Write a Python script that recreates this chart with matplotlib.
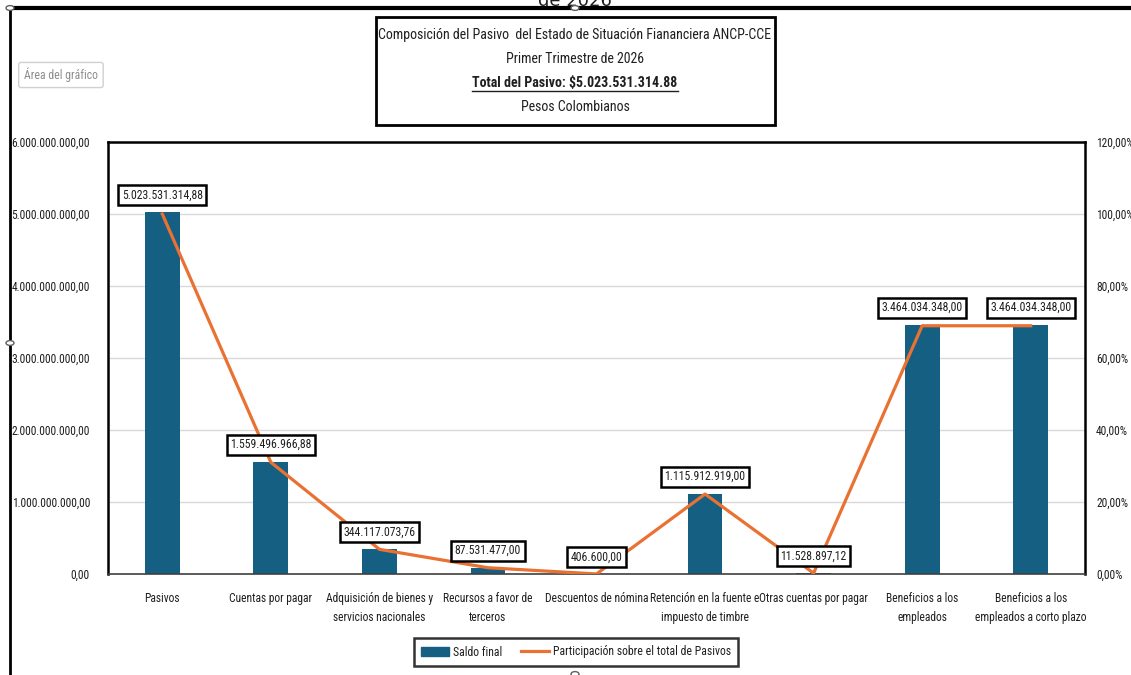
import matplotlib
matplotlib.use("Agg")
import matplotlib.pyplot as plt
from matplotlib.patches import Rectangle, Circle
from matplotlib.lines import Line2D

plt.rcParams['font.family'] = ['Roboto Condensed', 'IBM Plex Sans Condensed', 'DejaVu Sans']

categorias = ['Pasivos', 'Cuentas por pagar', 'Adquisición de bienes y\nservicios nacionales',
              'Recursos a favor de\nterceros', 'Descuentos de nómina',
              'Retención en la fuente e\nimpuesto de timbre', 'Otras cuentas por pagar',
              'Beneficios a los\nempleados', 'Beneficios a los\nempleados a corto plazo']
saldo_final = [5023531314.88, 1559496966.88, 344117073.76, 87531477.00, 406600.00,
               1115912919.00, 11528897.12, 3464034348.00, 3464034348.00]
participacion = [100.0, 31.04, 6.85, 1.74, 0.01, 22.21, 0.23, 68.96, 68.96]

titulo = ['Composición del Pasivo  del Estado de Situación Fiananciera ANCP-CCE',
          'Primer Trimestre de 2026',
          'Total del Pasivo: $5.023.531.314.88',
          'Pesos Colombianos']

AZUL = '#156082'
NARANJA = '#E97132'
TEXTO = '#1f1f1f'
W, H = 1131, 675
FS = 8.3


def fx(px):
    return px / W


def fy(py):
    return 1 - py / H


def fmt_num(v, dec=2):
    s = f'{v:,.{dec}f}'
    return s.replace(',', 'X').replace('.', ',').replace('X', '.')


fig = plt.figure(figsize=(W / 100, H / 100), dpi=100)
ax = fig.add_axes([fx(108), fy(574), fx(1085) - fx(108), fy(142) - fy(574)])
x = list(range(len(categorias)))

ax.bar(x, saldo_final, width=0.32, color=AZUL, zorder=2)
ax.set_ylim(0, 6e9)
ax.set_xlim(-0.5, len(categorias) - 0.5)
ax.set_yticks([i * 1e9 for i in range(7)])
ax.set_yticklabels([fmt_num(i * 1e9) for i in range(7)], fontsize=FS, color=TEXTO)
ax.set_xticks(x)
ax.set_xticklabels(categorias, fontsize=FS, color=TEXTO, linespacing=1.6)
ax.tick_params(axis='y', length=0, pad=13)
ax.tick_params(axis='x', length=0, pad=13)
ax.grid(axis='y', color='#d9d9d9', linewidth=1, zorder=0)
ax.set_axisbelow(True)
for s in ax.spines.values():
    s.set_visible(False)

ax2 = ax.twinx()
ax2.plot(x, participacion, color=NARANJA, linewidth=2.3, zorder=3)
ax2.set_ylim(0, 120)
ax2.set_yticks(range(0, 121, 20))
ax2.set_yticklabels([fmt_num(v) + '%' for v in range(0, 121, 20)], fontsize=FS, color=TEXTO)
ax2.tick_params(length=0, pad=8)
for s in ax2.spines.values():
    s.set_color('black')
    s.set_linewidth(1.8)
ax2.spines['bottom'].set_color('#404040')
ax2.spines['bottom'].set_linewidth(1.2)

for i, v in zip(x, saldo_final):
    ax2.annotate(fmt_num(v), xy=(i, v), xycoords=ax.transData, xytext=(0, 17),
                 textcoords='offset pixels', ha='center', va='center', fontsize=8.5,
                 color=TEXTO, zorder=5,
                 bbox=dict(boxstyle='square,pad=0.3', fc='white', ec='black', lw=1.8))

# leyenda
handles = [Rectangle((0, 0), 1, 1, color=AZUL),
           Line2D([0], [0], color=NARANJA, linewidth=2.3)]
leg = fig.legend(handles, ['Saldo final', 'Participación sobre el total de Pasivos'],
                 loc='center', bbox_to_anchor=(fx(576), fy(652)), ncol=2, fontsize=8.5,
                 frameon=True, fancybox=False, edgecolor='black', handlelength=2.4,
                 handletextpad=0.3, columnspacing=1.6, borderpad=0.6)
leg.get_frame().set_linewidth(1.8)
for t in leg.get_texts():
    t.set_color(TEXTO)

# cuadro de título
fig.add_artist(Rectangle((fx(376), fy(125)), fx(775) - fx(376), fy(17) - fy(125),
                         transform=fig.transFigure, fill=False, ec='black', lw=2))
ys = [35, 59, 83, 107]
txts = []
for t, yy in zip(titulo, ys):
    bold = t.startswith('Total')
    txts.append(fig.text(fx(575), fy(yy), t, ha='center', va='center', fontsize=10,
                         color=TEXTO, fontweight='bold' if bold else 'normal'))

fig.canvas.draw()
bb = txts[2].get_window_extent()
fig.add_artist(Line2D([bb.x0 / W, bb.x1 / W], [(bb.y0 - 1) / H, (bb.y0 - 1) / H],
                      transform=fig.transFigure, color=TEXTO, lw=1))

# bordes del área del gráfico
fig.add_artist(Line2D([fx(10), 1], [fy(8), fy(8)], transform=fig.transFigure, color='black', lw=3))
fig.add_artist(Line2D([fx(10), fx(10)], [fy(8), 0], transform=fig.transFigure, color='black', lw=2))
fig.text(fx(575), fy(6.5), 'de 2026', ha='center', va='baseline', fontsize=13,
         family='DejaVu Sans', color=TEXTO)

for px, py in [(10, 8), (575, 8), (10, 343), (575, 674)]:
    fig.add_artist(Circle((fx(px), fy(py)), 4 / W, transform=fig.transFigure,
                          fc='white', ec='#606060', lw=1, zorder=10))

fig.text(fx(24), fy(75), 'Área del gráfico', ha='left', va='center', fontsize=8.5,
         color='#8c8c8c',
         bbox=dict(boxstyle='round,pad=0.45,rounding_size=0.2', fc='white', ec='#d0d0d0', lw=1))

fig.savefig('out.png', dpi=100)
